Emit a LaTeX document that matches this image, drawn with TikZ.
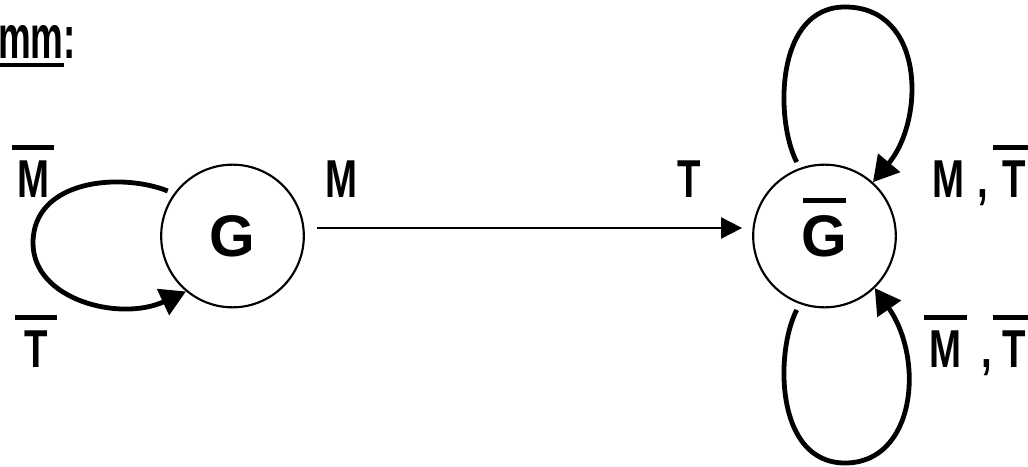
\documentclass[tikz,border=0pt]{standalone}
\usepackage{fontspec}
\setmainfont{Liberation Sans}
\newfontfamily\labfont[FakeStretch=0.72]{Liberation Sans}
\newfontfamily\titlefont[FakeStretch=0.6]{Liberation Sans}
\usetikzlibrary{arrows.meta}

% bar over a letter (negation)
\newcommand{\negbar}[2][7.5pt]{%
  \setbox0=\hbox{#2}%
  \makebox[\wd0]{\makebox[0pt]{\raisebox{\dimexpr\ht0+#1\relax}{\rule{32pt}{3.75pt}}}}%
  \hspace{-\wd0}\box0}
\newcommand{\titleul}[1]{\setbox0=\hbox{#1}\rlap{\rule[-6.3pt]{\wd0}{2.8pt}}\box0}

\begin{document}
\begin{tikzpicture}[x=0.75pt, y=-0.75pt,
  state/.style={draw, circle, line width=1.6pt, minimum size=107pt, inner sep=0pt,
    text height=31pt, text depth=0pt, font=\fontsize{44}{48}\selectfont\bfseries},
  lbl/.style={inner sep=0pt, font=\labfont\fontsize{40}{44}\selectfont\bfseries},
  selfloop/.style={line width=3.6pt, shorten <=5pt, -{Triangle[length=19pt, width=21pt]}}]
\useasboundingbox (0,0) rectangle (1028,467);
\node[anchor=base west, inner sep=0pt, font=\titlefont\fontsize{46}{50}\selectfont\bfseries] (title) at (-2,58.3) {\titleul{mm}:};
\node[state] (G) at (232.5,236) {G};
\node[state] (Gn) at (824.5,236) {\negbar[9.75pt]{G}};
\draw[line width=1.5pt, -{Triangle[length=15.75pt, width=15.75pt]}, shorten <=9pt, shorten >=7.5pt]
  ([yshift=6pt]G.east) -- ([yshift=6pt]Gn.west);
\node[lbl, anchor=base] (m1) at (341.5,197) {M};
\node[lbl, anchor=base] (t1) at (689.5,197) {T};
\node[lbl, anchor=base] (nm) at (33,197) {\negbar{M}};
\node[lbl, anchor=base] (nt) at (36,367) {\negbar{T}};
\node[lbl, anchor=base west] (mnt) at (932,197) {M\hspace{10pt},\hspace{11pt}\negbar{T}};
\node[lbl, anchor=base west] (nmnt) at (929,367) {\negbar{M}\hspace{15pt},\hspace{8pt}\negbar{T}};
% self loops
\draw[selfloop] (G.144) .. controls (120,172) and (33,180) .. (33,243)
  .. controls (33,300) and (120,322) .. (G.230);
\draw[selfloop] (Gn.110) .. controls (775,120) and (775,7) .. (845,7)
  .. controls (925,7) and (925,120) .. (Gn.48);
\draw[selfloop] (Gn.250) .. controls (775,352) and (775,463) .. (845,463)
  .. controls (915,463) and (925,360) .. (Gn.314);
\end{tikzpicture}
\end{document}
